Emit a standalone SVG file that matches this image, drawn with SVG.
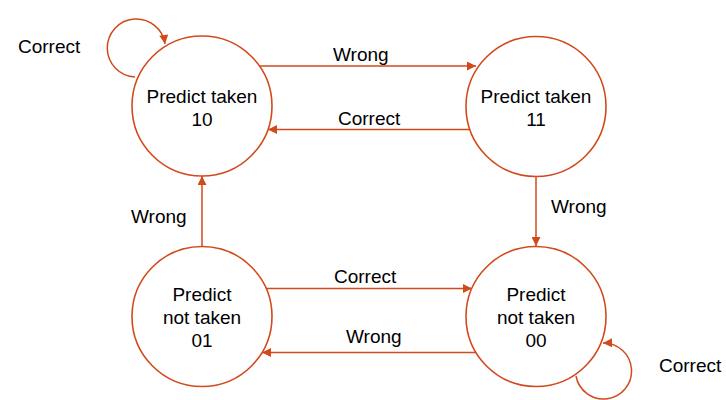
<svg xmlns="http://www.w3.org/2000/svg" width="726" height="400" viewBox="0 0 726 400">
<style>
.n{fill:#fff;stroke:#D2491C;stroke-width:1.6}
.e{fill:none;stroke:#D2491C;stroke-width:1.5}
text{font-family:"Liberation Sans",Arial,sans-serif;font-size:19px;fill:#000}
.c{text-anchor:middle}
</style>
<defs>
<marker id="ah" viewBox="0 0 10 10" refX="10" refY="5" markerWidth="10" markerHeight="9" markerUnits="userSpaceOnUse" orient="auto">
<path d="M0,0 L10,5 L0,10 Z" fill="#D2491C"/>
</marker>
</defs>
<g id="connectors">
<line class="e" x1="259" y1="66" x2="476" y2="66" marker-end="url(#ah)"/>
<line class="e" x1="470" y1="129.5" x2="268" y2="129.5" marker-end="url(#ah)"/>
<line class="e" x1="536" y1="176" x2="536" y2="246" marker-end="url(#ah)"/>
<line class="e" x1="202" y1="246" x2="202" y2="176" marker-end="url(#ah)"/>
<line class="e" x1="265" y1="288.5" x2="472" y2="288.5" marker-end="url(#ah)"/>
<line class="e" x1="476" y1="352.5" x2="262" y2="352.5" marker-end="url(#ah)"/>
<path class="e" d="M135,77 A29,29 0 1 1 165,44" marker-end="url(#ah)"/>
<path class="e" d="M576,376 A28,28 0 1 0 603,343" marker-end="url(#ah)"/>
<text x="18" y="53">Correct</text>
<text x="333" y="61">Wrong</text>
<text x="338" y="125">Correct</text>
<text x="131" y="223">Wrong</text>
<text x="551" y="213">Wrong</text>
<text x="334" y="283">Correct</text>
<text x="346" y="343">Wrong</text>
<text x="659" y="372">Correct</text>
</g>
<g id="node-10">
<circle class="n" cx="202" cy="106" r="70"/>
<text class="c" x="202" y="103">Predict taken</text>
<text class="c" x="202" y="126">10</text>
</g>
<g id="node-11">
<circle class="n" cx="536" cy="106.5" r="70"/>
<text class="c" x="536" y="103">Predict taken</text>
<text class="c" x="536" y="126">11</text>
</g>
<g id="node-01">
<circle class="n" cx="202" cy="316.5" r="70"/>
<text class="c" x="202" y="301">Predict</text>
<text class="c" x="202" y="324">not taken</text>
<text class="c" x="202" y="347">01</text>
</g>
<g id="node-00">
<circle class="n" cx="536" cy="316.5" r="70"/>
<text class="c" x="536" y="301">Predict</text>
<text class="c" x="536" y="324">not taken</text>
<text class="c" x="536" y="347">00</text>
</g>
</svg>
